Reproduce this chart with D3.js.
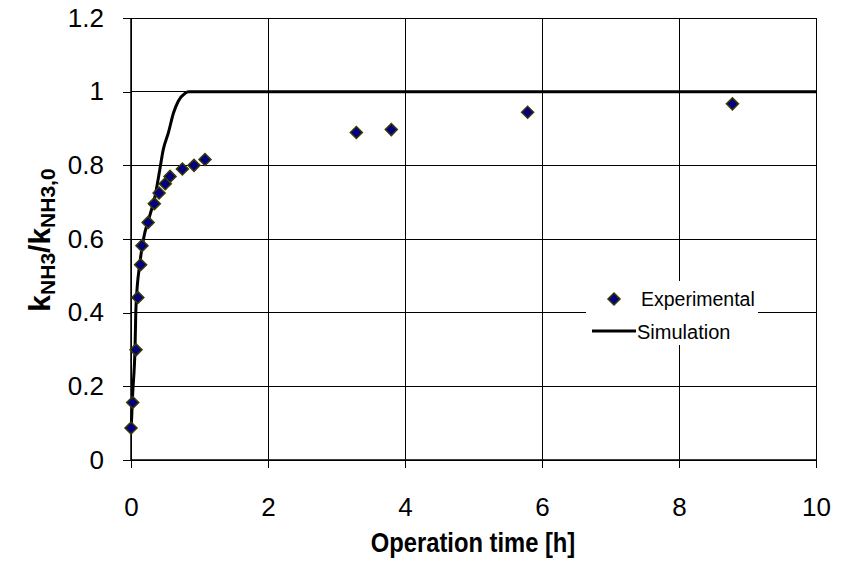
<!DOCTYPE html>
<html><head><meta charset="utf-8">
<script src="https://cdn.jsdelivr.net/npm/d3@7"></script>
<style>body{margin:0;background:#fff}svg{display:block}text{font-family:"Liberation Sans",Arial,sans-serif}</style>
</head><body>
<svg id="c" width="850" height="579"></svg>
<script>
const expTime = [0.0, 0.025, 0.073, 0.10, 0.14, 0.16, 0.25, 0.34, 0.41, 0.50, 0.57, 0.75, 0.92, 1.08, 3.29, 3.80, 5.79, 8.78];
const expValue = [0.087, 0.156, 0.299, 0.441, 0.53, 0.582, 0.645, 0.696, 0.725, 0.75, 0.77, 0.79, 0.80, 0.816, 0.889, 0.897, 0.944, 0.967];
const simTime = [0, 0.025, 0.058, 0.073, 0.13, 0.18, 0.27, 0.35, 0.42, 0.47, 0.545, 0.62, 0.69, 0.79, 0.84, 10];
const simValue = [0.073, 0.182, 0.299, 0.417, 0.535, 0.598, 0.661, 0.715, 0.788, 0.842, 0.888, 0.942, 0.974, 0.996, 1.0, 1.0];
const xTicks = [0, 2, 4, 6, 8, 10];
const yTicks = [0, 0.2, 0.4, 0.6, 0.8, 1, 1.2];
const legendLabels = ["Experimental", "Simulation"];

const svg = d3.select("#c");
const L = 131, R = 816, T = 18, B = 460;
const x = d3.scaleLinear().domain([0, 10]).range([L, R]);
const y = d3.scaleLinear().domain([0, 1.2]).range([B, T]);

// grid
svg.append("g").selectAll("line").data(yTicks).join("line")
  .attr("x1", L).attr("x2", R).attr("y1", d => y(d)).attr("y2", d => y(d))
  .attr("stroke", "#000").attr("stroke-width", 1).attr("shape-rendering", "crispEdges");
svg.append("g").selectAll("line").data(xTicks).join("line")
  .attr("y1", T).attr("y2", B).attr("x1", d => x(d)).attr("x2", d => x(d))
  .attr("stroke", "#000").attr("stroke-width", 1).attr("shape-rendering", "crispEdges");

// axes
const xAxis = svg.append("g").attr("transform", `translate(0,${B})`)
  .call(d3.axisBottom(x).tickValues(xTicks).tickSize(8).tickPadding(30).tickFormat(d3.format("d")));
const yAxis = svg.append("g").attr("transform", `translate(${L},0)`)
  .call(d3.axisLeft(y).tickValues(yTicks).tickSize(8).tickPadding(19).tickFormat(d => d === 0 ? "0" : (d === 1 ? "1" : d3.format(".1f")(d))));
[xAxis, yAxis].forEach(a => {
  a.select(".domain").attr("stroke", "#000").attr("stroke-width", 1.5);
  a.selectAll(".tick line").attr("stroke", "#000").attr("shape-rendering", "crispEdges");
  a.selectAll(".tick text").attr("font-size", 26).attr("fill", "#000").attr("font-family", "Liberation Sans, Arial, sans-serif");
});
xAxis.select(".domain").attr("d", `M${L},0H${R}`);
yAxis.select(".domain").attr("d", `M0,${B}V${T}`);

// simulation line
const line = d3.line().x((d, i) => x(simTime[i])).y((d, i) => y(simValue[i])).curve(d3.curveMonotoneX);
svg.append("path").datum(simValue).attr("d", line)
  .attr("fill", "none").attr("stroke", "#000").attr("stroke-width", 3);

// experimental
function drawDiamond(sel) {
  sel.attr("d", d3.symbol().type(d3.symbolSquare).size(72)())
    .attr("fill", "#000080").attr("stroke", "#3a3a00").attr("stroke-width", 1.5);
}
svg.append("g").selectAll("path").data(expValue).join("path")
  .attr("transform", (d, i) => `translate(${x(expTime[i])},${y(d)}) rotate(45)`)
  .call(drawDiamond);

// legend
const lg = svg.append("g");
lg.append("rect").attr("x", 586).attr("y", 281).attr("width", 172).attr("height", 64).attr("fill", "#fff");
lg.append("path").attr("transform", "translate(614,299) rotate(45)").call(drawDiamond);
lg.append("text").attr("x", 641).attr("y", 306).attr("font-size", 19.5).text(legendLabels[0]);
lg.append("line").attr("x1", 592).attr("x2", 636).attr("y1", 331).attr("y2", 331).attr("stroke", "#000").attr("stroke-width", 3);
lg.append("text").attr("x", 637).attr("y", 339).attr("font-size", 20).text(legendLabels[1]);

// axis titles
svg.append("text").attr("transform", "translate(473,552) scale(0.88,1)").attr("text-anchor", "middle")
  .attr("font-size", 27).attr("font-weight", "bold").text("Operation time [h]");
const yt = svg.append("text").attr("transform", "translate(50,240) rotate(-90)").attr("text-anchor", "middle")
  .attr("font-size", 30).attr("font-weight", "bold");
yt.append("tspan").text("k");
yt.append("tspan").attr("font-size", 21).attr("dy", 5).text("NH3");
yt.append("tspan").attr("dy", -5).text("/k");
yt.append("tspan").attr("font-size", 21).attr("dy", 5).text("NH3,0");
</script>
</body></html>
